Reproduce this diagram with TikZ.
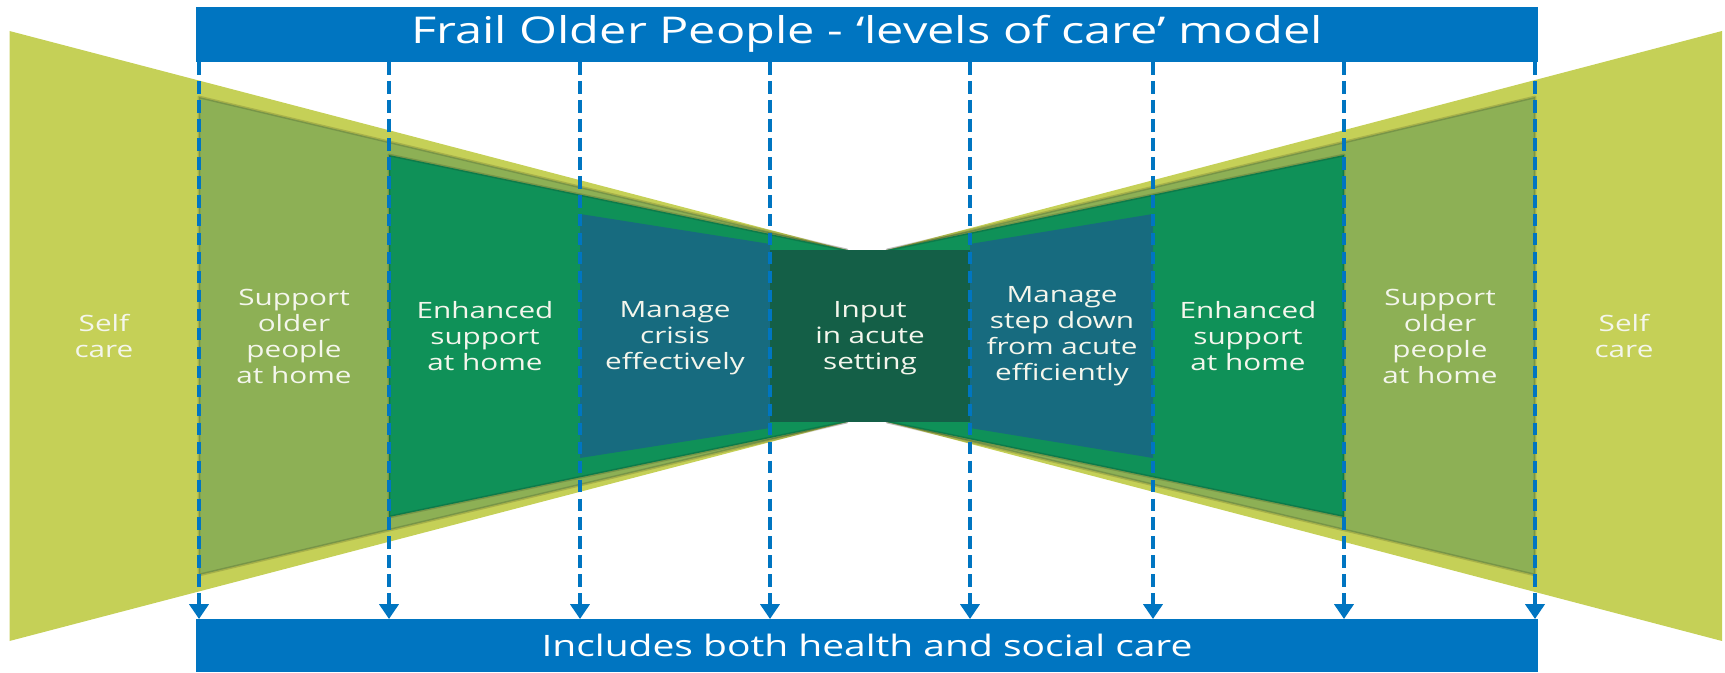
\documentclass[tikz,border=0pt]{standalone}
\usepackage{fontspec}
\setmainfont{Open Sans}[FakeStretch=1.32]
\usetikzlibrary{arrows.meta}
% Farben der Versorgungsstufen
\definecolor{careblue}{HTML}{0075C1}
\definecolor{selfgreen}{HTML}{C5D057}
\definecolor{supportgreen}{HTML}{8DB055}
\definecolor{enhancedgreen}{HTML}{0F9158}
\definecolor{crisisteal}{HTML}{176B7F}
\definecolor{acutegreen}{HTML}{145F47}
\definecolor{labelwhite}{HTML}{F4F6EC}
\begin{document}
\begin{tikzpicture}[>=Latex,
    banner/.style={fill=careblue, text=white, inner sep=0pt},
    level/.style={text=labelwhite, align=center,
        font=\fontsize{6.4}{7.4}\selectfont},
    layer/.style={draw=black, draw opacity=0.15, line width=0.8pt, line join=round},
    guide/.style={careblue, line width=1pt, dash pattern=on 3.6pt off 1.8pt,
        -{Triangle[width=5.4pt,length=4.2pt]}}]
\useasboundingbox (0,0) rectangle (17.25,6.72);
% Selbstversorgung: aeussere Keile links und rechts
\fill[selfgreen] (0.095,6.41) -- (8.47,4.22) -- (8.47,2.50) -- (0.095,0.31) -- cycle;
\fill[selfgreen] (17.22,6.41) -- (8.87,4.22) -- (8.87,2.50) -- (17.22,0.31) -- cycle;
% Unterstuetzung zu Hause
\filldraw[layer, fill=supportgreen] (1.99,5.75) -- (8.47,4.22) -- (8.47,2.50) -- (1.99,0.97) -- cycle;
\filldraw[layer, fill=supportgreen] (15.35,5.75) -- (8.87,4.22) -- (8.87,2.50) -- (15.35,0.97) -- cycle;
% erweiterte Unterstuetzung
\filldraw[layer, fill=enhancedgreen] (3.89,5.17) -- (8.47,4.22) -- (8.47,2.50) -- (3.89,1.55) -- cycle;
\filldraw[layer, fill=enhancedgreen] (13.44,5.17) -- (8.87,4.22) -- (8.87,2.50) -- (13.44,1.55) -- cycle;
% Krise / Entlassung
\fill[crisisteal] (5.80,4.58) -- (7.70,4.28) -- (7.70,2.44) -- (5.80,2.14) -- cycle;
\fill[crisisteal] (11.53,4.58) -- (9.70,4.28) -- (9.70,2.44) -- (11.53,2.14) -- cycle;
% Akutversorgung in der Mitte
\fill[acutegreen] (7.70,2.50) rectangle (9.70,4.22);
% Kopf- und Fussbalken
\node[banner, minimum width=13.42cm, minimum height=0.55cm,
    font=\fontsize{10.5}{12}\selectfont] (title) at (8.67,6.378)
    {Frail Older People - ‘levels of care’ model};
\node[banner, minimum width=13.42cm, minimum height=0.53cm,
    font=\fontsize{8.4}{10}\selectfont] (scope) at (8.67,0.265)
    {Includes both health and social care};
% gestrichelte Pfeile zwischen den Stufen
\foreach \i/\x in {1/1.99, 2/3.89, 3/5.80, 4/7.70, 5/9.70, 6/11.53, 7/13.44, 8/15.35} {
    \coordinate (t\i) at (\x,6.10);
    \coordinate (b\i) at (\x,0.53);
    \draw[guide] (t\i) -- (b\i);
}
% Beschriftungen der Stufen
\node[level] (selfL) at (1.04,3.36) {Self\\care};
\node[level] (supportL) at (2.94,3.36) {Support\\older\\people\\at home};
\node[level] (enhancedL) at (4.85,3.36) {Enhanced\\support\\at home};
\node[level] (crisis) at (6.75,3.34) {Manage\\crisis\\effectively};
\node[level] (acute) at (8.70,3.34) {Input\\in acute\\setting};
\node[level] (stepdown) at (10.62,3.36) {Manage\\step down\\from acute\\efficiently};
\node[level] (enhancedR) at (12.48,3.36) {Enhanced\\support\\at home};
\node[level] (supportR) at (14.40,3.36) {Support\\older\\people\\at home};
\node[level] (selfR) at (16.24,3.36) {Self\\care};
\end{tikzpicture}
\end{document}
